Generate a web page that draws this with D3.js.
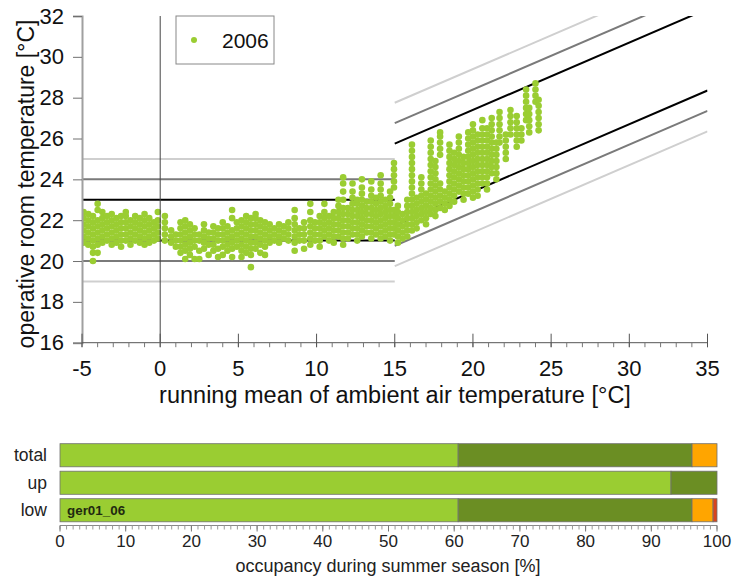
<!DOCTYPE html>
<html>
<head>
<meta charset="utf-8">
<script src="https://cdn.jsdelivr.net/npm/d3@7"></script>
<style>
  html, body { margin: 0; padding: 0; background: #fff; }
  svg { display: block; font-family: "Liberation Sans", Arial, sans-serif; }
</style>
</head>
<body>
<svg id="chart" width="733" height="579"></svg>
<script>
// ---------------- DATA ----------------
const seriesName = "2006";
const xTicks = [-5, 0, 5, 10, 15, 20, 25, 30, 35];
const yTicks = [16, 18, 20, 22, 24, 26, 28, 30, 32];

// running mean of ambient temperature (one per day) and the room temperatures observed that day
const runningMean = [
  -4.9, -4.6, -4.3, -4.0, -3.7, -3.4, -3.1, -2.8, -2.5, -2.2, -1.9, -1.6, -1.3, -1.0, -0.7, -0.4, -0.15,
  0.3, 0.7, 1.0, 1.3, 1.6, 1.9, 2.2, 2.5, 2.8, 3.1, 3.4, 3.7, 4.0, 4.3, 4.6, 4.9,
  5.2, 5.5, 5.8, 6.1, 6.4, 6.7, 7.0, 7.3, 7.6, 7.9, 8.2, 8.6, 8.9, 9.2, 9.6, 9.9,
  10.2, 10.5, 10.8, 11.1, 11.4, 11.7, 12.0, 12.3, 12.6, 12.9, 13.2, 13.5, 13.8, 14.1, 14.4, 14.7, 14.95,
  15.2, 15.5, 15.8, 16.1, 16.4, 16.7, 17.0, 17.3, 17.6, 17.9, 18.2, 18.5, 18.8, 19.1, 19.4, 19.7,
  20.0, 20.3, 20.6, 20.9, 21.2, 21.5, 21.7, 22.1, 22.4, 22.8, 23.1, 23.4, 23.6, 24.0, 24.2
];
const roomTemp = [
  [20.9,21.2,21.5,21.8,22.1,22.4],
  [20.8,21.1,21.4,21.7,22.0,22.3],
  [20.0,20.4,20.7,21.0,21.3,21.6,21.9,22.2],
  [20.4,20.8,21.1,21.4,21.7,22.0,22.5,22.8],
  [20.9,21.2,21.5,21.8,22.1,22.4],
  [21.0,21.3,21.6,21.9,22.2],
  [20.8,21.1,21.4,21.7,22.0,22.3],
  [20.9,21.2,21.5,21.8,22.1],
  [20.7,21.0,21.3,21.6,21.9,22.2],
  [21.0,21.3,21.6,21.9,22.2,22.4],
  [20.8,21.1,21.4,21.7,22.0],
  [21.0,21.3,21.6,21.9,22.2],
  [20.9,21.2,21.5,21.8,22.1],
  [20.8,21.1,21.4,21.7,22.0,22.3],
  [20.9,21.2,21.5,21.8,22.1],
  [21.0,21.3,21.6,21.9],
  [21.1,21.4,21.7,22.0,22.4],
  [21.0,21.3,21.6,21.9,22.2],
  [20.9,21.2,21.5],
  [20.7,21.0,21.3],
  [20.4,20.7,21.0,21.3,21.6,21.9],
  [20.1,20.5,20.8,21.1,21.4,21.7,22.0],
  [20.3,20.6,20.9,21.2,21.5,21.8],
  [20.1,20.7,21.0,21.3,21.6],
  [20.1,20.5,21.0,21.3],
  [20.6,20.9,21.2,21.5,21.8],
  [20.3,20.8,21.1,21.4],
  [20.5,20.8,21.1,21.4,21.7],
  [20.2,20.6,21.0,21.3,21.6],
  [20.3,20.7,21.0,21.3,21.6,21.9],
  [20.5,20.8,21.1,21.4,21.7],
  [20.2,20.6,20.9,21.2,21.5,22.1,22.5],
  [20.7,21.0,21.3,21.6,21.9],
  [20.2,20.5,20.8,21.1,21.4,21.7,22.0],
  [20.4,20.7,21.0,21.3,21.6,21.9,22.2],
  [19.7,20.3,20.6,20.9,21.2,21.5,21.8,22.1],
  [20.6,20.9,21.2,21.5,21.8,22.1,22.3],
  [20.4,20.8,21.1,21.4,21.7,22.0],
  [20.3,20.7,21.0,21.3,21.6,21.9],
  [20.9,21.2,21.5,21.8],
  [21.0,21.3,21.6],
  [20.9,21.2,21.5,21.8],
  [21.1,21.4,21.7],
  [21.0,21.3,21.6,21.9],
  [20.5,20.9,21.2,21.5,21.8,22.1,22.5],
  [21.0,21.3,21.6],
  [20.6,21.0,21.3,21.6,21.9],
  [20.8,21.1,21.4,21.7,22.0,22.4,22.8],
  [21.0,21.3,21.6,21.9],
  [20.7,21.0,21.3,21.6,21.9,22.2],
  [21.2,21.5,21.8,22.1,22.4,22.8],
  [21.0,21.3,21.6,21.9,22.2],
  [20.9,21.2,21.5,21.8,22.1,22.4],
  [21.2,21.5,21.8,22.1,22.4,22.7,23.0],
  [20.8,21.1,21.4,21.7,22.0,22.3,22.6,23.0,23.4,23.8,24.1],
  [21.1,21.4,21.7,22.0,22.3,22.6],
  [21.3,21.6,21.9,22.2,22.5,22.8,23.1,23.4,23.8],
  [21.0,21.3,21.6,21.9,22.2,22.5,22.8,23.0],
  [21.2,21.5,21.8,22.1,22.4,22.7,23.0,23.3,23.6,24.0],
  [21.4,21.7,22.0,22.3,22.6,22.9],
  [21.1,21.4,21.7,22.0,22.3,22.6,22.9,23.2,23.5,23.9],
  [21.3,21.6,21.9,22.2,22.5,22.8,23.1],
  [21.1,21.4,21.7,22.0,22.3,22.6,22.9,23.2,23.5,23.8,24.2],
  [21.2,21.5,21.8,22.1,22.4,22.7,23.0],
  [21.0,21.3,21.6,21.9,22.2,22.5,22.8,23.1,23.4],
  [21.3,21.6,21.9,22.2,22.5,23.6,23.9,24.2,24.5,24.8],
  [20.9,21.2,21.5,21.8,22.1,22.4,22.7],
  [21.1,21.4,21.7,22.0,22.3],
  [21.2,21.5,21.8,22.1,22.4,22.7,23.0],
  [21.5,21.8,22.1,22.4,22.7,23.0,23.3,23.6,23.9,24.2,24.5,24.8,25.1,25.4,25.7],
  [21.6,21.9,22.2,22.5,22.8,23.1],
  [22.0,22.3,22.6,22.9,23.2,23.5,23.8,24.1],
  [21.8,22.1,22.4,22.7,23.0,23.3],
  [22.3,22.6,22.9,23.2,23.5,23.8,24.1,24.4,24.7,25.0,25.3,25.6,25.9],
  [22.2,22.5,22.8,23.1,23.4,23.7,24.0,24.3,24.6,24.9],
  [22.6,22.9,23.2,23.5,23.8,25.2,25.5,25.8,26.1,26.3],
  [22.5,22.8,23.1,23.4],
  [22.7,23.0,23.3,23.6,23.9,24.2,24.5,24.8,25.1,25.4,25.7],
  [22.9,23.2,23.5,23.8,24.1,24.4,24.7,25.0,25.3],
  [23.4,23.7,24.0,24.3,24.6,24.9,25.2,25.5,25.8,26.1],
  [23.0,23.3,23.6,23.9,24.2,24.5,24.8,25.1],
  [23.3,23.6,23.9,24.2,24.5,24.8,25.1,25.4,25.7,26.0,26.3],
  [23.1,23.4,23.7,24.0,24.3,24.6,24.9,25.2,25.5,25.8,26.1,26.4,26.7],
  [23.2,23.5,23.8,24.1,24.4,24.7,25.0,25.3,25.6,25.9,26.2],
  [23.8,24.1,24.4,24.7,25.0,25.3,25.6,25.9,26.2,26.5,26.9],
  [23.5,23.8,24.1,24.4,24.7,25.0,25.3,25.6,25.9,26.2,26.5],
  [24.3,24.6,24.9,25.2,25.5,25.8,26.1,26.4,26.7,27.0],
  [24.0,24.3,24.6,24.9,25.2,25.5,25.8],
  [25.8,26.1,26.4,26.7,27.0,27.3],
  [25.0,25.3,25.6,25.9,26.2],
  [26.2,26.5,26.8,27.1,27.4],
  [25.6,25.9,26.2,26.5,26.8,27.1],
  [25.9,26.2,26.5],
  [26.9,27.2,27.5,27.8,28.1,28.4],
  [26.3,26.6,26.9,27.2,27.5],
  [27.8,28.1,28.4,28.7],
  [26.4,26.7,27.0,27.3,27.6,27.9]
];

// comfort band limits: constant below 15 °C, sloped from 15 to 35 °C
const limitFlat = [25, 24, 23, 21, 20, 19];
const limitAt15 = [27.75, 26.75, 25.75, 21.75, 20.75, 19.75];
const limitAt35 = [34.35, 33.35, 32.35, 28.35, 27.35, 26.35];
const limitColors = ["#cfcfcf", "#7a7a7a", "#000000", "#000000", "#7a7a7a", "#cfcfcf"];

// occupancy bar chart
const barCategories = ["total", "up", "low"];
const shareLight = [60.6, 93.0, 60.6];
const shareDark = [35.6, 7.0, 35.6];
const shareOrange = [3.8, 0.0, 3.2];
const shareRed = [0.0, 0.0, 0.6];
const segmentColors = ["#9acd32", "#6b8e23", "#ffa500", "#d9441c"];
const barTicks = [0, 10, 20, 30, 40, 50, 60, 70, 80, 90, 100];
const buildingLabel = "ger01_06";

// ---------------- DRAW ----------------
const svg = d3.select("#chart");
const x = d3.scaleLinear().domain([-5, 35]).range([82, 707.5]);
const y = d3.scaleLinear().domain([16, 32]).range([342.7, 16]);

svg.append("defs").append("clipPath").attr("id", "plotclip")
  .append("rect").attr("x", x(-5)).attr("y", y(32)).attr("width", x(35) - x(-5)).attr("height", y(16) - y(32));

const plot = svg.append("g").attr("clip-path", "url(#plotclip)");

// vertical line at 0
svg.append("line").attr("x1", x(0)).attr("x2", x(0)).attr("y1", y(32)).attr("y2", y(16))
  .attr("stroke", "#444").attr("stroke-width", 1);

// comfort limits
limitFlat.forEach((v, i) => {
  plot.append("line").attr("x1", x(-5)).attr("x2", x(15)).attr("y1", y(v)).attr("y2", y(v))
    .attr("stroke", limitColors[i]).attr("stroke-width", 2);
  plot.append("line").attr("x1", x(15)).attr("x2", x(35)).attr("y1", y(limitAt15[i])).attr("y2", y(limitAt35[i]))
    .attr("stroke", limitColors[i]).attr("stroke-width", 2);
});

// points
const points = [];
runningMean.forEach((t, i) => roomTemp[i].forEach(v => points.push([t, v])));
plot.selectAll("circle.pt").data(points).join("circle")
  .attr("class", "pt")
  .attr("cx", d => x(d[0])).attr("cy", d => y(d[1])).attr("r", 3.3)
  .attr("fill", "#9acd32");

// y axis
const yAxis = svg.append("g").attr("transform", `translate(${x(-5)},0)`)
  .call(d3.axisLeft(y).tickValues(yTicks).tickSize(9).tickPadding(9).tickFormat(d3.format("d")));
yAxis.select(".domain").attr("stroke", "#a0a0a0").attr("stroke-width", 2);
yAxis.selectAll(".tick line").attr("stroke", "#707070");
yAxis.selectAll("text").attr("font-size", 22).attr("fill", "#111")
  .attr("font-family", "Liberation Sans, Arial, sans-serif");

// x axis
const xAxisG = svg.append("g").attr("transform", `translate(0,${y(16)})`);
xAxisG.append("line").attr("x1", x(-5)).attr("x2", x(35)).attr("y1", 0).attr("y2", 0)
  .attr("stroke", "#555").attr("stroke-width", 1);
xAxisG.selectAll("line.minor").data(d3.range(-5, 36, 1)).join("line")
  .attr("x1", d => x(d)).attr("x2", d => x(d)).attr("y1", 0).attr("y2", 4.5)
  .attr("stroke", "#777");
xAxisG.selectAll("line.major").data(xTicks).join("line")
  .attr("x1", d => x(d)).attr("x2", d => x(d)).attr("y1", -9).attr("y2", 4.5)
  .attr("stroke", "#555");
xAxisG.selectAll("text").data(xTicks).join("text")
  .attr("x", d => x(d)).attr("y", 33.5).attr("text-anchor", "middle")
  .attr("font-size", 22).attr("fill", "#111").text(d => d);

// axis titles
svg.append("text").attr("x", 395).attr("y", 402.5).attr("text-anchor", "middle")
  .attr("font-size", 23.5).attr("fill", "#111").text("running mean of ambient air temperature [°C]");
svg.append("text").attr("transform", "translate(34,184) rotate(-90)").attr("text-anchor", "middle")
  .attr("font-size", 23).attr("fill", "#111").text("operative room temperature [°C]");

// legend
svg.append("rect").attr("x", 176).attr("y", 16).attr("width", 98).attr("height", 48)
  .attr("fill", "#fff").attr("stroke", "#888").attr("stroke-width", 1);
svg.append("circle").attr("cx", 194).attr("cy", 40).attr("r", 3).attr("fill", "#9acd32");
svg.append("text").attr("x", 222).attr("y", 48).attr("font-size", 21).attr("fill", "#111").text(seriesName);

// ---------- occupancy bars ----------
const xb = d3.scaleLinear().domain([0, 100]).range([60, 717]);
const yb = d3.scaleBand().domain(barCategories).range([441.5, 524]).paddingInner(0.16).paddingOuter(0.08);

const shares = [shareLight, shareDark, shareOrange, shareRed];
barCategories.forEach((c, i) => {
  let acc = 0;
  shares.forEach((arr, k) => {
    const v = arr[i];
    if (v > 0) {
      svg.append("rect").attr("x", xb(acc)).attr("y", yb(c))
        .attr("width", xb(acc + v) - xb(acc)).attr("height", yb.bandwidth())
        .attr("fill", segmentColors[k]).attr("stroke", "#6f6f6f").attr("stroke-width", 0.8);
    }
    acc += v;
  });
  svg.append("text").attr("x", 47).attr("y", yb(c) + yb.bandwidth() / 2).attr("dy", "0.35em")
    .attr("text-anchor", "end").attr("font-size", 17.5).attr("fill", "#222").text(c);
});
svg.append("text").attr("x", 67).attr("y", yb("low") + yb.bandwidth() / 2).attr("dy", "0.35em")
  .attr("font-size", 13.4).attr("font-weight", "bold").attr("fill", "#1f2a10").text(buildingLabel);

const bAxis = svg.append("g").attr("transform", "translate(0,525.5)");
bAxis.append("line").attr("x1", xb(0)).attr("x2", xb(100)).attr("stroke", "#888");
bAxis.selectAll("line.minor").data(d3.range(0, 101, 1)).join("line")
  .attr("x1", d => xb(d)).attr("x2", d => xb(d)).attr("y1", 0).attr("y2", 4)
  .attr("stroke", "#999");
bAxis.selectAll("line.major").data(barTicks).join("line")
  .attr("x1", d => xb(d)).attr("x2", d => xb(d)).attr("y1", 0).attr("y2", 6)
  .attr("stroke", "#777");
bAxis.selectAll("text").data(barTicks).join("text")
  .attr("x", d => xb(d)).attr("y", 21.5).attr("text-anchor", "middle")
  .attr("font-size", 17).attr("fill", "#222").text(d => d);
svg.append("text").attr("x", 388).attr("y", 572).attr("text-anchor", "middle")
  .attr("font-size", 18).attr("fill", "#222").text("occupancy during summer season [%]");
</script>
</body>
</html>
